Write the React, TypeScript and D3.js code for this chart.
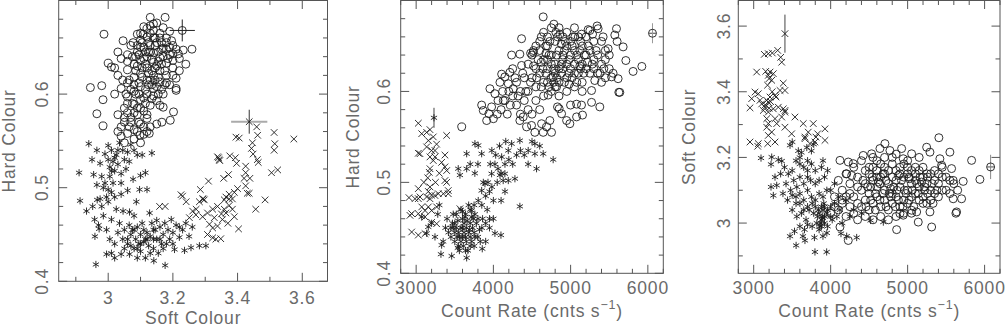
import React from "react";
import * as d3 from "d3";

type Pt = [number, number];

// ---------- Panel 1 : Soft Colour (x) vs Hard Colour (y) ----------
const p1Circles: Pt[] = [
  [2.987,0.664],[2.945,0.607],[2.965,0.579],[2.984,0.566],[3.176,0.682],[3.259,0.648],[3.202,0.581],[3.192,0.572],
  [3.046,0.657],[3.0,0.633],[2.984,0.594],[3.21,0.606],[3.13,0.673],[3.17,0.671],[3.077,0.655],[3.108,0.664],
  [3.196,0.657],[3.217,0.643],[3.232,0.647],[3.01,0.629],[2.98,0.609],[3.166,0.57],[3.127,0.558],[3.098,0.556],
  [3.13,0.682],[3.15,0.676],[3.11,0.672],[3.14,0.668],[3.16,0.665],[3.19,0.667],[3.09,0.664],[3.12,0.661],
  [3.1,0.658],[3.18,0.66],[3.2,0.652],[3.15,0.655],[3.13,0.652],[3.07,0.652],[3.11,0.65],[3.17,0.649],
  [3.21,0.648],[3.09,0.645],[3.14,0.644],[3.06,0.642],[3.19,0.642],[3.12,0.64],[3.16,0.639],[3.04,0.638],
  [3.1,0.636],[3.22,0.638],[3.08,0.632],[3.14,0.634],[3.18,0.633],[3.2,0.628],[3.02,0.628],[3.12,0.628],
  [3.06,0.626],[3.16,0.625],[3.24,0.632],[3.1,0.622],[3.14,0.62],[3.18,0.62],[3.03,0.62],[3.08,0.618],
  [3.21,0.617],[3.12,0.615],[3.16,0.613],[3.06,0.612],[3.19,0.61],[3.1,0.608],[3.14,0.606],[3.04,0.606],
  [3.21,0.604],[3.08,0.603],[3.12,0.6],[3.17,0.6],[3.06,0.597],[3.1,0.594],[3.15,0.593],[3.02,0.6],
  [3.13,0.588],[3.08,0.589],[3.17,0.586],[3.05,0.585],[3.11,0.582],[3.16,0.588],[3.03,0.578],[3.09,0.578],
  [3.07,0.575],[3.12,0.574],[3.05,0.57],[3.1,0.568],[3.04,0.565],[3.08,0.562],[3.13,0.565],[3.06,0.558],
  [3.11,0.557],[3.04,0.555],[3.08,0.552],[3.1,0.548],[3.05,0.548],[3.12,0.56],[3.15,0.568],[3.03,0.56],
  [3.115,0.645],[3.135,0.637],[3.125,0.655],[3.145,0.628],[3.105,0.628],[3.095,0.612],[3.135,0.61],[3.155,0.645],
  [3.165,0.632],[3.085,0.6],[3.075,0.59],[3.095,0.57],[3.065,0.565],[3.07,0.605],[3.2,0.636],[3.18,0.648],
  [3.1,0.65],[3.13,0.665],[3.06,0.635],[3.03,0.645],[3.115,0.59],[3.14,0.598],[3.09,0.585],[3.06,0.58],
  [3.125,0.622],[3.155,0.618],[3.175,0.61],[3.085,0.64],[3.145,0.66],[3.165,0.655],[3.045,0.615],[3.055,0.6],
  [3.105,0.655],[3.125,0.645],[3.145,0.652],[3.165,0.648],[3.185,0.638],[3.095,0.642],[3.115,0.632],[3.135,0.625],
  [3.155,0.635],[3.175,0.625],[3.105,0.618],[3.125,0.61],[3.145,0.615],[3.165,0.605],[3.085,0.625],[3.075,0.64],
  [3.095,0.6],[3.115,0.605],[3.135,0.595],[3.155,0.6],[3.065,0.615],[3.08,0.58],[3.1,0.585],[3.12,0.578],
  [3.07,0.57],[3.09,0.56],[3.11,0.565],[3.06,0.59],[3.05,0.575],[3.13,0.645],[3.12,0.67],[3.14,0.675],
  [3.16,0.66],[3.19,0.65],[3.2,0.643],[3.17,0.64],[3.15,0.63],[3.11,0.638],[3.09,0.63],[3.13,0.615],
  [3.18,0.612],[3.2,0.62],[3.15,0.608],[3.11,0.596],[3.08,0.61],[3.09,0.652],[3.1,0.665],[3.14,0.66],
  [3.18,0.655],[3.22,0.625]
];
const p1Stars: Pt[] = [
  [2.94,0.547],[2.91,0.516],[2.95,0.53],[2.965,0.54],[2.975,0.526],[2.98,0.512],[2.99,0.536],[3.0,0.53],
  [3.005,0.522],[3.01,0.54],[3.015,0.528],[3.02,0.518],[3.005,0.512],[3.025,0.535],[3.03,0.525],[3.0,0.545],
  [3.035,0.548],[3.045,0.54],[3.05,0.53],[3.055,0.52],[3.04,0.515],[3.06,0.538],[3.07,0.546],[3.08,0.54],
  [3.09,0.535],[3.105,0.535],[3.135,0.537],[3.065,0.528],[3.04,0.505],[3.077,0.509],[3.097,0.498],[3.12,0.498],
  [3.1,0.513],[3.115,0.516],[2.99,0.505],[3.0,0.498],[2.995,0.49],[3.01,0.495],[2.985,0.5],[2.965,0.503],
  [2.955,0.514],[2.975,0.488],[2.913,0.486],[2.933,0.475],[2.952,0.48],[2.966,0.487],[2.98,0.48],[3.0,0.485],
  [3.02,0.49],[3.04,0.493],[3.087,0.485],[3.06,0.497],[3.025,0.477],[3.046,0.475],[3.066,0.474],[2.985,0.47],
  [2.958,0.466],[2.97,0.46],[2.959,0.448],[2.972,0.456],[2.995,0.455],[3.01,0.466],[3.005,0.445],[2.962,0.418],
  [2.995,0.429],[3.01,0.43],[3.02,0.425],[3.04,0.429],[3.066,0.429],[3.02,0.44],[3.03,0.452],[3.035,0.462],
  [3.045,0.445],[3.05,0.455],[3.06,0.44],[3.065,0.46],[3.07,0.45],[3.08,0.435],[3.085,0.445],[3.09,0.458],
  [3.095,0.44],[3.1,0.45],[3.1,0.432],[3.105,0.462],[3.11,0.442],[3.115,0.425],[3.12,0.452],[3.125,0.438],
  [3.13,0.448],[3.135,0.462],[3.14,0.435],[3.145,0.455],[3.15,0.445],[3.155,0.43],[3.16,0.458],[3.165,0.44],
  [3.17,0.45],[3.175,0.462],[3.18,0.44],[3.185,0.455],[3.19,0.445],[3.195,0.466],[3.2,0.452],[3.21,0.46],
  [3.22,0.447],[3.23,0.455],[3.24,0.462],[3.25,0.448],[3.26,0.458],[3.141,0.422],[3.176,0.417],[3.205,0.434],
  [3.236,0.433],[3.256,0.436],[3.282,0.438],[3.302,0.438],[3.128,0.473],[3.08,0.47],[3.09,0.425],[3.075,0.455],
  [3.115,0.445],[3.14,0.445],[3.02,0.532],[3.01,0.518],[3.03,0.54],[3.015,0.505],
  [3.06,0.445],[3.08,0.455],[3.1,0.44],[3.12,0.445],[3.14,0.455],[3.16,0.445],[3.11,0.455],[3.13,0.43],
  [3.09,0.435],[3.07,0.438],[3.17,0.435],[3.05,0.435],[3.15,0.465],[3.2,0.44],[3.22,0.458]
];
const p1Crosses: Pt[] = [
  [3.459,0.565],[3.462,0.556],[3.513,0.559],[3.574,0.552],[3.395,0.554],[3.405,0.553],[3.446,0.548],[3.443,0.542],
  [3.448,0.536],[3.461,0.53],[3.464,0.527],[3.515,0.547],[3.513,0.54],[3.341,0.532],[3.345,0.529],[3.376,0.534],
  [3.393,0.532],[3.397,0.526],[3.505,0.516],[3.524,0.519],[3.42,0.51],[3.438,0.51],[3.357,0.51],[3.372,0.514],
  [3.31,0.507],[3.425,0.502],[3.436,0.494],[3.485,0.487],[3.456,0.477],[3.403,0.456],[3.4,0.499],[3.39,0.495],
  [3.374,0.493],[3.285,0.498],[3.294,0.488],[3.297,0.487],[3.23,0.491],[3.241,0.485],[3.359,0.487],[3.364,0.49],
  [3.374,0.488],[3.384,0.488],[3.374,0.481],[3.359,0.477],[3.364,0.473],[3.384,0.477],[3.39,0.469],[3.353,0.466],
  [3.338,0.48],[3.323,0.477],[3.307,0.473],[3.292,0.469],[3.328,0.468],[3.313,0.461],[3.323,0.457],[3.338,0.459],
  [3.307,0.45],[3.323,0.4465],[3.333,0.445],[3.348,0.4455],[3.261,0.475],[3.271,0.471],[3.251,0.468],[3.159,0.48],
  [3.176,0.48],[3.225,0.4925],[3.282,0.485],[3.292,0.488],[3.272,0.477],[3.338,0.533],[3.343,0.53],[3.425,0.523],
  [3.425,0.516],[3.43,0.494],[3.35,0.472],[3.37,0.462]
];

// ---------- Panel 2 : Count Rate (x) vs Hard Colour (y) ----------
const p2Circles: Pt[] = [
  [4645,0.682],[4365,0.658],[4783,0.674],[4809,0.665],[4861,0.663],[5227,0.668],[5343,0.672],[5284,0.663],
  [5594,0.669],[5572,0.662],[5602,0.655],[5680,0.649],[5715,0.634],[5809,0.622],[5922,0.6275],[5624,0.599],
  [5378,0.583],[5271,0.588],[5141,0.585],[5077,0.586],[4999,0.585],[5154,0.574],[5077,0.572],[4990,0.5645],
  [4852,0.581],[4883,0.5755],[4948,0.568],[4731,0.568],[4689,0.561],[4753,0.555],[4645,0.555],[4537,0.555],
  [4624,0.5645],[4386,0.572],[4343,0.568],[4430,0.561],[4494,0.5626],[3590,0.561],[3848,0.585],[3869,0.579],
  [3942,0.5755],[3977,0.583],[3913,0.568],[3955,0.603],[4020,0.5975],[4085,0.61],[4128,0.59],[4107,0.619],
  [4149,0.616],[4214,0.621],[4193,0.6085],[4257,0.603],[4236,0.64],[4365,0.6286],[4343,0.641],[4482,0.642],
  [4516,0.643],[4774,0.616],[4818,0.605],[4709,0.596],[4830,0.583],[5055,0.66],[5141,0.663],[5249,0.667],
  [5356,0.669],[5421,0.66],[5486,0.647],[5313,0.612],[5400,0.61],[5271,0.601],[5530,0.616],[5615,0.614],
  [5637,0.599],
  [4450,0.63],[4500,0.64],[4550,0.625],[4600,0.645],[4650,0.635],[4700,0.65],[4750,0.64],[4800,0.63],
  [4850,0.645],[4900,0.635],[4950,0.65],[5000,0.64],[5050,0.645],[5100,0.635],[5150,0.65],[5200,0.64],
  [5250,0.645],[5300,0.635],[5350,0.64],[5400,0.63],[5450,0.635],[5500,0.625],[5550,0.62],[4500,0.615],
  [4550,0.605],[4600,0.62],[4650,0.61],[4700,0.625],[4750,0.615],[4800,0.62],[4850,0.61],[4900,0.625],
  [4950,0.615],[5000,0.625],[5050,0.62],[5100,0.62],[5150,0.61],[5200,0.625],[5250,0.62],[5300,0.625],
  [5350,0.62],[5450,0.615],[5500,0.64],[4600,0.655],[4700,0.66],[4800,0.655],[4900,0.66],[5000,0.655],
  [5100,0.66],[4650,0.595],[4750,0.6],[4850,0.595],[4950,0.6],[5050,0.605],[5150,0.6],[4550,0.59],
  [4450,0.6],[4400,0.615],[4350,0.6],[4300,0.61],[4250,0.595],[4200,0.6],[4150,0.59],[4100,0.58],
  [4050,0.575],[4000,0.57],[4300,0.585],[4400,0.59],[4350,0.575],[4450,0.58],[4500,0.575],[4600,0.58],
  [4250,0.625],[4550,0.65],[4650,0.665],[4750,0.67],[4850,0.67],[4950,0.665],[5050,0.67],[5200,0.66],
  [5300,0.655],[5400,0.655],[5450,0.645],[4850,0.625],[4750,0.63],[4950,0.63],[5050,0.63],[4700,0.61],
  [4800,0.605],[4620,0.632],[4880,0.652],[5120,0.628],[4520,0.628],[4680,0.642],[4980,0.608],[5220,0.632],
  [4520,0.645],[4580,0.635],[4640,0.625],[4680,0.65],[4720,0.64],[4780,0.625],[4820,0.64],[4880,0.63],
  [4920,0.645],[4980,0.635],[5020,0.65],[5080,0.64],[5130,0.625],[5180,0.64],[5230,0.65],[5280,0.63],
  [4560,0.615],[4620,0.605],[4680,0.62],[4720,0.605],[4780,0.61],[4820,0.615],[4880,0.62],[4920,0.61],
  [4980,0.62],[5020,0.615],[5080,0.61],[5120,0.645],[5170,0.62],[4480,0.61],[4420,0.6],[4380,0.62],
  [4320,0.595],[4280,0.615],[4220,0.585],[4180,0.575],[4120,0.6],[4060,0.59],[4620,0.66],[4730,0.655],
  [4830,0.66],[4930,0.655],[5030,0.66],[5130,0.655],[5330,0.645],[5380,0.62],[5430,0.625],[4700,0.635],
  [4900,0.64],[5150,0.63]
];
const p2Stars: Pt[] = [
  [3400,0.46],[3450,0.45],[3500,0.455],[3550,0.445],[3600,0.46],[3650,0.45],[3700,0.455],[3750,0.445],
  [3800,0.46],[3450,0.44],[3500,0.435],[3550,0.43],[3600,0.44],[3650,0.435],[3700,0.44],[3750,0.43],
  [3800,0.44],[3850,0.45],[3900,0.455],[3520,0.465],[3580,0.47],[3640,0.465],[3700,0.47],[3760,0.465],
  [3420,0.445],[3480,0.45],[3530,0.44],[3580,0.45],[3620,0.445],[3680,0.445],[3730,0.45],[3780,0.455],
  [3560,0.425],[3610,0.43],[3670,0.425],[3720,0.435],[3350,0.435],[3380,0.45],[3321,0.421],[3460,0.419],
  [3654,0.417],[3856,0.427],[4020,0.444],[4098,0.442],[3900,0.435],[3950,0.46],[3520,0.45],[3660,0.458],
  [3600,0.45],[3740,0.46],[3632,0.462],[3718,0.469],[3804,0.48],[3848,0.491],[3891,0.4985],[3977,0.5095],
  [4020,0.52],[4107,0.528],[4193,0.535],[3850,0.475],[3900,0.485],[3950,0.49],[3920,0.47],[3870,0.5],
  [3930,0.5],[3980,0.495],[4000,0.48],[4050,0.5],[4060,0.515],[4100,0.51],[3960,0.52],[4030,0.53],
  [4150,0.52],[4200,0.525],[4250,0.52],[4300,0.53],[4350,0.535],[4400,0.53],[3980,0.535],[4080,0.54],
  [4160,0.545],[3545,0.515],[3654,0.515],[3567,0.508],[3761,0.5425],[3804,0.5407],[3848,0.5315],[3654,0.5315],
  [3700,0.52],[3760,0.51],[3800,0.52],[4127,0.502],[4193,0.502],[4279,0.504],[4343,0.4736],[4236,0.5425],
  [4343,0.546],[4451,0.535],[4537,0.5315],[4559,0.515],[4537,0.5425],[4645,0.5315],[4774,0.525],[4450,0.52],
  [4500,0.545],[4600,0.54],[3072,0.462],[3157,0.451],[3244,0.44],[3330,0.431],[3136,0.444],[3200,0.455],
  [3280,0.465],[3300,0.475],[3950,0.45],[4000,0.46],[4100,0.48],[4150,0.49],[4085,0.508],[4149,0.5095],
  [3470,0.455],[3540,0.458],[3560,0.44],[3620,0.455],[3690,0.448],[3720,0.462],[3760,0.44],[3820,0.448],
  [3500,0.445],[3580,0.435],[3640,0.44],[3700,0.43],[3860,0.46],[3830,0.435],[3480,0.465],[3600,0.468],
  [3680,0.475],[3750,0.475],[3540,0.428],[3640,0.425]
];
const p2Crosses: Pt[] = [
  [3028,0.565],[3072,0.5535],[3136,0.555],[3179,0.558],[3158,0.546],[3222,0.55],[3136,0.539],[3200,0.535],
  [3265,0.542],[3244,0.535],[3028,0.532],[3050,0.5315],[3395,0.5516],[3373,0.53],[3179,0.528],[3244,0.528],
  [3222,0.524],[3330,0.522],[3373,0.517],[3395,0.513],[3179,0.515],[3170,0.511],[3373,0.502],[3395,0.5],
  [3179,0.495],[3158,0.49],[3200,0.486],[2985,0.482],[3050,0.484],[3136,0.484],[3179,0.482],[3244,0.4855],
  [3287,0.4875],[3352,0.4875],[3416,0.4875],[3072,0.473],[3158,0.473],[3115,0.469],[3200,0.469],[3265,0.473],
  [2920,0.4637],[3028,0.4656],[3115,0.462],[2942,0.4454],[3028,0.442],[3115,0.4436],[3265,0.4545],[3200,0.456],
  [3567,0.471],[3416,0.491],[2942,0.4656],[3028,0.4931],[3028,0.4821],[2907,0.4832],[3100,0.5],[3150,0.505],
  [3250,0.5],[3300,0.51]
];

// ---------- Panel 3 : Count Rate (x) vs Soft Colour (y) ----------
const p3Circles: Pt[] = [
  [5406,3.26],[5831,3.191],[5939,3.133],[5549,3.216],[5247,3.231],[5290,3.216],[5419,3.196],[5441,3.176],
  [5571,3.166],[5592,3.13],[5722,3.127],[5701,3.074],[5592,3.074],[5627,3.03],[5636,3.034],[5290,3.034],
  [5312,2.988],[5138,3.003],[4857,2.98],[4705,3.242],[4770,3.221],[4640,3.227],[4922,3.227],[5052,3.211],
  [4943,3.196],[4423,3.206],[4532,3.211],[4229,3.186],[4294,3.181],[4121,3.191],[4208,3.15],[4273,3.145],
  [5117,3.034],[5052,3.039],[4943,3.024],[4900,3.029],[4229,2.947],[4121,2.988],
  [4400,3.1],[4450,3.12],[4500,3.09],[4550,3.13],[4600,3.11],[4650,3.14],[4700,3.1],[4750,3.12],
  [4800,3.09],[4850,3.13],[4900,3.11],[4950,3.14],[5000,3.1],[5050,3.12],[5100,3.13],[5150,3.11],
  [5200,3.14],[5250,3.12],[5300,3.1],[5350,3.13],[5400,3.12],[5450,3.14],[4300,3.08],[4350,3.06],
  [4400,3.05],[4450,3.07],[4500,3.04],[4550,3.06],[4600,3.08],[4650,3.05],[4700,3.07],[4750,3.04],
  [4800,3.06],[4850,3.08],[4900,3.05],[4950,3.07],[5000,3.06],[5050,3.08],[5100,3.09],[5150,3.07],
  [5200,3.08],[5250,3.06],[5300,3.07],[5350,3.09],[5400,3.08],[5450,3.1],[5500,3.1],[4450,3.16],
  [4500,3.15],[4550,3.17],[4600,3.16],[4650,3.18],[4700,3.17],[4750,3.16],[4800,3.18],[4850,3.16],
  [4900,3.17],[4950,3.18],[5000,3.15],[5050,3.16],[5100,3.17],[5150,3.16],[5200,3.17],[5300,3.15],
  [5350,3.16],[5450,3.17],[5500,3.14],[5550,3.13],[5600,3.12],[5550,3.09],[5650,3.1],[4100,3.04],
  [4150,3.06],[4200,3.08],[4250,3.05],[4200,3.02],[4300,3.03],[4350,3.01],[4450,3.02],[4550,3.01],
  [4650,3.02],[4750,3.01],[4850,3.02],[4950,3.03],[5050,3.03],[4000,3.03],[4050,3.08],[4150,3.1],
  [4250,3.12],[4350,3.14],[4100,3.13],[4200,3.15],[4300,3.17],[4400,3.19],[4550,3.2],[4700,3.2],
  [4850,3.21],[5000,3.19],[5150,3.2],[4620,3.125],[4780,3.105],[4880,3.145],[5020,3.135],[5180,3.125],
  [4520,3.11],[4680,3.09],[4980,3.09],[5220,3.1],
  [4420,3.13],[4480,3.11],[4540,3.14],[4580,3.09],[4640,3.12],[4680,3.15],[4720,3.13],[4760,3.09],
  [4820,3.11],[4860,3.1],[4920,3.13],[4960,3.1],[5020,3.14],[5060,3.1],[5120,3.12],[5160,3.14],
  [5220,3.11],[5260,3.14],[5320,3.12],[5380,3.1],[4460,3.05],[4520,3.07],[4580,3.04],[4640,3.07],
  [4720,3.05],[4780,3.08],[4840,3.05],[4880,3.07],[4940,3.05],[5020,3.07],[5080,3.05],[5140,3.09],
  [5200,3.06],[5260,3.09],[5330,3.06],[4500,3.17],[4600,3.14],[4700,3.15],[4800,3.14],[4900,3.15],
  [5000,3.17],[5100,3.15],[5250,3.15],[5400,3.15],[4350,3.11],[4250,3.09],[4150,3.07],[4050,3.05],
  [4600,3.19],[4800,3.2]
];
const p3Stars: Pt[] = [
  [3095,3.198],[3225,3.179],[3320,3.193],[3364,3.189],[3472,3.237],[3501,3.247],[3580,3.22],[3620,3.215],
  [3690,3.23],[3750,3.22],[3780,3.24],[3900,3.19],[3277,3.14],[3299,3.115],[3255,3.084],[3225,3.11],
  [3400,3.17],[3450,3.15],[3500,3.16],[3550,3.19],[3600,3.18],[3650,3.17],[3700,3.19],[3750,3.18],
  [3800,3.16],[3420,3.12],[3480,3.1],[3520,3.13],[3560,3.11],[3600,3.14],[3650,3.12],[3700,3.14],
  [3740,3.13],[3800,3.12],[3850,3.13],[3380,3.09],[3440,3.07],[3500,3.085],[3550,3.06],[3600,3.09],
  [3650,3.07],[3700,3.1],[3750,3.08],[3800,3.07],[3850,3.09],[3900,3.08],[3950,3.1],[3500,3.04],
  [3560,3.02],[3620,3.03],[3680,3.01],[3720,3.04],[3780,3.03],[3830,3.02],[3870,3.0],[3900,3.04],
  [3950,3.03],[4000,3.05],[4050,3.06],[3600,2.99],[3660,2.98],[3700,2.995],[3760,2.99],[3850,2.98],
  [3880,3.01],[3920,3.0],[3960,2.99],[4020,3.01],[4080,3.02],[4120,3.04],[3551,2.932],[3666,2.947],
  [3796,2.912],[3948,2.912],[3789,2.956],[3472,2.96],[4134,2.968],[4208,2.96],[4338,2.956],[4519,3.008],
  [4684,3.003],[3900,2.96],[3950,2.97],[3530,2.975],[3640,2.96],[4000,3.1],[4100,3.08],[4200,3.07],
  [4050,3.12],[3920,3.14],[3880,3.17],[3960,3.16],[3350,3.15],[3880,3.05],[3840,3.04],[3860,2.99],
  [3890,3.02],[3910,3.06],[4150,3.0],[4250,3.02],[4300,3.04],[4400,3.03],[3234,3.201],[3920,3.02],
  [3820,3.0],[3880,2.99],[3900,3.015],[3850,3.03],[3800,3.05],[3760,3.06],[3700,3.05],[3650,3.04],
  [3600,3.06],[3550,3.08],[3920,3.05],[3960,3.04],[4000,3.02],[3700,3.16],[3600,3.2]
];
const p3Crosses: Pt[] = [
  [3138,3.514],[3190,3.516],[3242,3.518],[3312,3.526],[3364,3.49],[3351,3.505],[3039,3.46],[3156,3.462],
  [3190,3.45],[3234,3.435],[3212,3.46],[3255,3.455],[3384,3.426],[3017,3.399],[3060,3.394],[2974,3.379],
  [2952,3.351],[3082,3.374],[3169,3.374],[3212,3.384],[3277,3.389],[3342,3.404],[3406,3.404],[3104,3.363],
  [3147,3.353],[3190,3.368],[3125,3.343],[3190,3.338],[3255,3.348],[3320,3.353],[3384,3.348],[3406,3.338],
  [3364,3.323],[3277,3.318],[3169,3.318],[3190,3.303],[3169,3.292],[3299,3.303],[3234,3.277],[3190,3.267],
  [3406,3.292],[3536,3.323],[3644,3.303],[3774,3.303],[3926,3.287],[3831,3.272],[3809,3.262],[3709,3.277],
  [3666,3.262],[3493,3.272],[2952,3.247],[3060,3.242],[3052,3.234],[3182,3.242],[3277,3.247],[3666,3.257],
  [3731,3.242],[3796,3.247],[3926,3.252],[3180,3.42],[3200,3.44],[3220,3.37],[3240,3.4],[3150,3.36],
  [3200,3.35],[3290,3.384],[3406,3.343]
];

// error bars
type Err = { x: number; y: number; ex: number; ey: number; sym: string; hColor: string; vColor: string; hWidth: number };
const p1Errors: Err[] = [
  { x: 3.229, y: 0.668, ex: 0.039, ey: 0.0117, sym: "circle", hColor: "#222", vColor: "#222", hWidth: 1 },
  { x: 3.436, y: 0.5705, ex: 0.056, ey: 0.0128, sym: "cross", hColor: "#aaa", vColor: "#333", hWidth: 2 }
];
const p2Errors: Err[] = [
  { x: 6060, y: 0.664, ex: 45, ey: 0.011, sym: "circle", hColor: "#444", vColor: "#999", hWidth: 1 },
  { x: 3231, y: 0.571, ex: 0, ey: 0.011, sym: "star", hColor: "#444", vColor: "#444", hWidth: 1 }
];
const p3Errors: Err[] = [
  { x: 3406, y: 3.577, ex: 0, ey: 0.058, sym: "cross", hColor: "#444", vColor: "#444", hWidth: 1 },
  { x: 6078, y: 3.171, ex: 45, ey: 0.037, sym: "circle", hColor: "#444", vColor: "#888", hWidth: 1 }
];

// tick definitions
const softMajor = [3, 3.2, 3.4, 3.6];
const softMinor = [2.9, 3.1, 3.3, 3.5];
const softLabels = ["3", "3.2", "3.4", "3.6"];
const hardMajor = [0.4, 0.5, 0.6, 0.7];
const hardMinor = [0.42, 0.44, 0.46, 0.48, 0.52, 0.54, 0.56, 0.58, 0.62, 0.64, 0.66, 0.68];
const hardLabels = ["0.4", "0.5", "0.6", ""];
const rateMajor = [3000, 4000, 5000, 6000];
const rateMinor = [2800, 3200, 3400, 3600, 3800, 4200, 4400, 4600, 4800, 5200, 5400, 5600, 5800, 6200];
const rateLabels = ["3000", "4000", "5000", "6000"];

const FONT = "'Liberation Sans', Arial, Helvetica, sans-serif";
const TXT = "#6a6a6a";
const FRAME = "#555";
const INK = "#1c1c1c";

function Sym({ kind, cx, cy }: { kind: string; cx: number; cy: number }) {
  if (kind === "circle") return <circle cx={cx} cy={cy} r={4} fill="none" stroke={INK} strokeWidth={0.9} />;
  if (kind === "star")
    return (
      <path
        d={`M${cx},${cy - 3.6}V${cy + 3.6}M${cx - 3.1},${cy - 1.8}L${cx + 3.1},${cy + 1.8}M${cx - 3.1},${cy + 1.8}L${cx + 3.1},${cy - 1.8}`}
        stroke={INK}
        strokeWidth={0.9}
        fill="none"
      />
    );
  return (
    <path
      d={`M${cx - 3.3},${cy - 3.3}L${cx + 3.3},${cy + 3.3}M${cx - 3.3},${cy + 3.3}L${cx + 3.3},${cy - 3.3}`}
      stroke={INK}
      strokeWidth={0.9}
      fill="none"
    />
  );
}

type PanelProps = {
  id: string;
  l: number; r: number; t: number; b: number;
  xDomain: [number, number]; yDomain: [number, number];
  xMajor: number[]; xMinor: number[]; xLabels: string[];
  yMajor: number[]; yMinor: number[]; yLabels: string[];
  xLabelBase: number; yLabelBase: number; xTitleBase: number; yTitleBase: number;
  xTitle: React.ReactNode; yTitle: string;
  circles: Pt[]; stars: Pt[]; crosses: Pt[]; errs: Err[];
};

function Panel(p: PanelProps) {
  const x = d3.scaleLinear().domain(p.xDomain).range([p.l, p.r]);
  const y = d3.scaleLinear().domain(p.yDomain).range([p.b, p.t]);
  const MAJ = 8.5, MIN = 4.5;
  const cy = (p.t + p.b) / 2;
  const cx = (p.l + p.r) / 2;
  const inX = (v: number) => x(v) >= p.l - 0.5 && x(v) <= p.r + 0.5;
  const inY = (v: number) => y(v) >= p.t - 0.5 && y(v) <= p.b + 0.5;
  return (
    <g>
      <defs>
        <clipPath id={p.id}>
          <rect x={p.l} y={p.t} width={p.r - p.l} height={p.b - p.t} />
        </clipPath>
      </defs>
      <g clipPath={`url(#${p.id})`}>
        {p.circles.map((d, i) => <Sym key={"c" + i} kind="circle" cx={x(d[0])} cy={y(d[1])} />)}
        {p.stars.map((d, i) => <Sym key={"s" + i} kind="star" cx={x(d[0])} cy={y(d[1])} />)}
        {p.crosses.map((d, i) => <Sym key={"x" + i} kind="cross" cx={x(d[0])} cy={y(d[1])} />)}
        {p.errs.map((e, i) => (
          <g key={"e" + i}>
            {e.ex > 0 && (
              <line x1={x(e.x - e.ex)} x2={x(e.x + e.ex)} y1={y(e.y)} y2={y(e.y)} stroke={e.hColor} strokeWidth={e.hWidth} />
            )}
            <line x1={x(e.x)} x2={x(e.x)} y1={y(e.y - e.ey)} y2={y(e.y + e.ey)} stroke={e.vColor} strokeWidth={1} />
            <Sym kind={e.sym} cx={x(e.x)} cy={y(e.y)} />
          </g>
        ))}
      </g>
      <g stroke={FRAME} strokeWidth={1}>
        {p.xMajor.filter(inX).map((v, i) => (
          <g key={"xM" + i}>
            <line x1={x(v)} x2={x(v)} y1={p.b} y2={p.b - MAJ} />
            <line x1={x(v)} x2={x(v)} y1={p.t} y2={p.t + MAJ} />
          </g>
        ))}
        {p.xMinor.filter(inX).map((v, i) => (
          <g key={"xm" + i}>
            <line x1={x(v)} x2={x(v)} y1={p.b} y2={p.b - MIN} />
            <line x1={x(v)} x2={x(v)} y1={p.t} y2={p.t + MIN} />
          </g>
        ))}
        {p.yMajor.filter(inY).map((v, i) => (
          <g key={"yM" + i}>
            <line x1={p.l} x2={p.l + MAJ} y1={y(v)} y2={y(v)} />
            <line x1={p.r} x2={p.r - MAJ} y1={y(v)} y2={y(v)} />
          </g>
        ))}
        {p.yMinor.filter(inY).map((v, i) => (
          <g key={"ym" + i}>
            <line x1={p.l} x2={p.l + MIN} y1={y(v)} y2={y(v)} />
            <line x1={p.r} x2={p.r - MIN} y1={y(v)} y2={y(v)} />
          </g>
        ))}
      </g>
      <rect x={p.l} y={p.t} width={p.r - p.l} height={p.b - p.t} fill="none" stroke={FRAME} strokeWidth={1} />
      <g fontFamily={FONT} fontSize={17.5} fill={TXT} letterSpacing={0.8}>
        {p.xMajor.map((v, i) =>
          p.xLabels[i] ? (
            <text key={"xl" + i} x={x(v)} y={p.xLabelBase} textAnchor="middle">{p.xLabels[i]}</text>
          ) : null
        )}
        {p.yMajor.map((v, i) =>
          p.yLabels[i] ? (
            <text key={"yl" + i} transform={`translate(${p.yLabelBase},${y(v)}) rotate(-90)`} textAnchor="middle">
              {p.yLabels[i]}
            </text>
          ) : null
        )}
        <text x={cx} y={p.xTitleBase} textAnchor="middle">{p.xTitle}</text>
        <text transform={`translate(${p.yTitleBase},${cy}) rotate(-90)`} textAnchor="middle">{p.yTitle}</text>
      </g>
    </g>
  );
}

const rateTitle = (
  <>
    <tspan>Count Rate (cnts s</tspan>
    <tspan dy={-8} fontSize={12.5}>−1</tspan>
    <tspan dy={8}>)</tspan>
  </>
);

export default function App() {
  return (
    <svg
      width={1005}
      height={326}
      viewBox="0 0 1005 326"
      style={{ position: "absolute", left: 0, top: 0, display: "block", background: "#fff" }}
    >
      <rect x={0} y={0} width={1005} height={326} fill="#fff" />
      <Panel
        id="clip1" l={58.7} r={327.5} t={0.5} b={281.3}
        xDomain={[2.847, 3.678]} yDomain={[0.4, 0.7]}
        xMajor={softMajor} xMinor={softMinor} xLabels={softLabels}
        yMajor={hardMajor} yMinor={hardMinor} yLabels={hardLabels}
        xLabelBase={304} yLabelBase={48} xTitleBase={323.5} yTitleBase={15}
        xTitle="Soft Colour" yTitle="Hard Colour"
        circles={p1Circles} stars={p1Stars} crosses={p1Crosses} errs={p1Errors}
      />
      <Panel
        id="clip2" l={400.7} r={663.3} t={0.5} b={273.3}
        xDomain={[2800, 6200]} yDomain={[0.4, 0.7]}
        xMajor={rateMajor} xMinor={rateMinor} xLabels={rateLabels}
        yMajor={hardMajor} yMinor={hardMinor} yLabels={hardLabels}
        xLabelBase={294} yLabelBase={390} xTitleBase={317} yTitleBase={359}
        xTitle={rateTitle} yTitle="Hard Colour"
        circles={p2Circles} stars={p2Stars} crosses={p2Crosses} errs={p2Errors}
      />
      <Panel
        id="clip3" l={738.3} r={1000} t={0.5} b={273.3}
        xDomain={[2800, 6200]} yDomain={[2.847, 3.678]}
        xMajor={rateMajor} xMinor={rateMinor} xLabels={rateLabels}
        yMajor={softMajor} yMinor={softMinor} yLabels={softLabels}
        xLabelBase={294} yLabelBase={730} xTitleBase={317} yTitleBase={695}
        xTitle={rateTitle} yTitle="Soft Colour"
        circles={p3Circles} stars={p3Stars} crosses={p3Crosses} errs={p3Errors}
      />
    </svg>
  );
}
